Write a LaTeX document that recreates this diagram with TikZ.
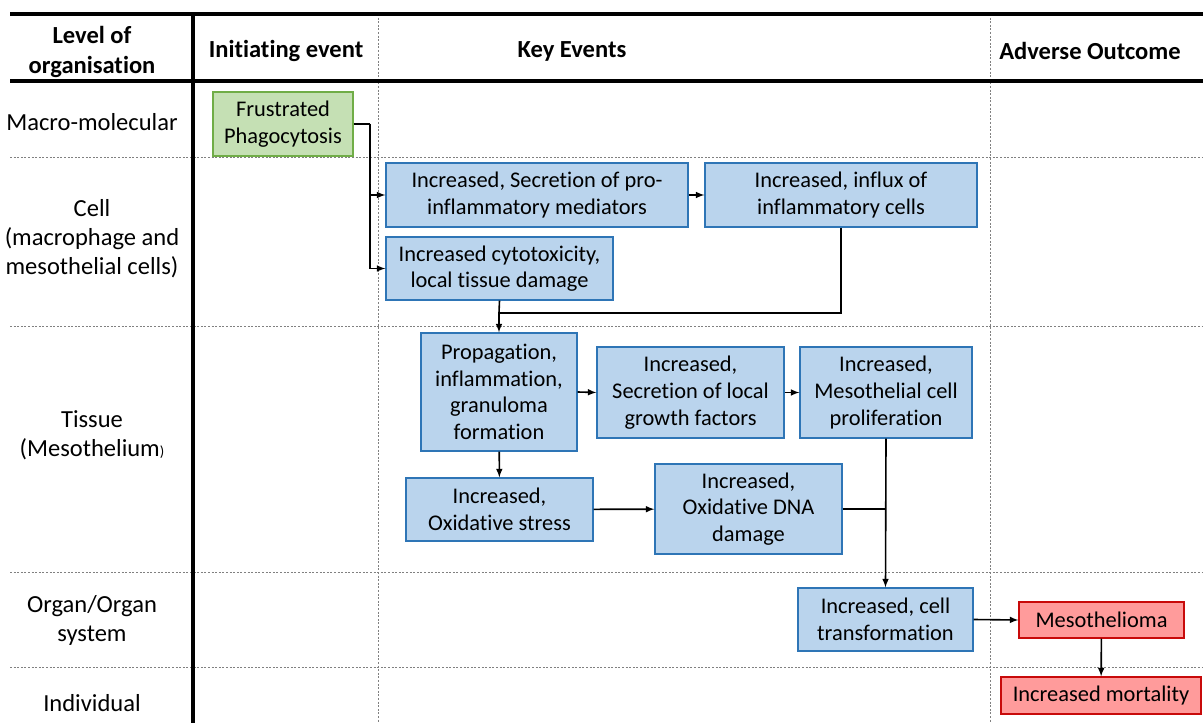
\documentclass[tikz,border=0pt]{standalone}
\usepackage{fontspec}
\setmainfont{Carlito}[RawFeature={-liga;-clig;-calt;-dlig}]
\usetikzlibrary{shapes,arrows,positioning}

\definecolor{boxblue}{RGB}{186,212,237}
\definecolor{edgeblue}{RGB}{46,117,182}
\definecolor{boxgreen}{RGB}{197,224,180}
\definecolor{edgegreen}{RGB}{112,173,71}
\definecolor{boxred}{RGB}{255,155,155}
\definecolor{edgered}{RGB}{200,10,10}

\begin{document}
\begin{tikzpicture}[
    x=0.75pt, y=-0.75pt,
    event/.style={rectangle,draw=edgeblue,fill=boxblue,line width=0.9pt,align=center,inner sep=0pt,
        font=\fontsize{16.8}{20}\selectfont},
    mie/.style={event,draw=edgegreen,fill=boxgreen},
    outcome/.style={event,draw=edgered,fill=boxred},
    level/.style={align=center,font=\fontsize{18.4}{21.8}\selectfont},
    head/.style={align=center,font=\fontsize{18.4}{21.8}\selectfont\bfseries},
    thick rule/.style={line width=2.6pt},
    grid rule/.style={gray,line width=0.6pt,dash pattern=on 1.5pt off 1.2pt},
    line/.style={draw,line width=1.2pt,-latex}]

    \useasboundingbox (0,0) rectangle (1203,723);

    % Table frame
    \draw[grid rule] (10,157) -- (1203,157);
    \draw[grid rule] (10,326) -- (1203,326);
    \draw[grid rule] (10,572) -- (1203,572);
    \draw[grid rule] (10,667) -- (1203,667);
    \draw[grid rule] (378,14) -- (378,723);
    \draw[grid rule] (990,14) -- (990,723);
    \draw[thick rule] (10,14) -- (1203,14);
    \draw[thick rule] (10,81) -- (1203,81);
    \draw[thick rule] (193,14) -- (193,723);

    % Column headers
    \node[head] (hlevel) at (92,52) {Level of\\organisation};
    \node[head] (hmie) at (286,51) {Initiating event};
    \node[head] (hkey) at (572,51) {Key Events};
    \node[head] (hao) at (1090,51) {Adverse Outcome};

    % Levels of organisation
    \node[level] (lmacro) at (92,122) {Macro-molecular};
    \node[level] (lcell) at (92,239) {Cell\\(macrophage and\\mesothelial cells)};
    \node[level] (ltissue) at (92,435) {Tissue\\(Mesothelium{\fontsize{11}{11}\selectfont)}};
    \node[level] (lorgan) at (92,620) {Organ/Organ\\system};
    \node[level] (lindiv) at (92,703) {Individual};

    % Initiating event
    \node[mie, minimum width=140*0.75pt, minimum height=64*0.75pt] (phago) at (283,124) {Frustrated\\Phagocytosis};

    % Key events
    \node[event, minimum width=302*0.75pt, minimum height=64*0.75pt] (secpro) at (537,195) {Increased, Secretion of pro-\\inflammatory mediators};
    \node[event, minimum width=272*0.75pt, minimum height=64*0.75pt] (influx) at (841,195) {Increased, influx of\\inflammatory cells};
    \node[event, minimum width=227*0.75pt, minimum height=63*0.75pt] (cytotox) at (499.5,268.5) {Increased cytotoxicity,\\local tissue damage};
    \node[event, minimum width=156*0.75pt, minimum height=118*0.75pt] (granuloma) at (499,392) {Propagation,\\inflammation,\\granuloma\\formation};
    \node[event, minimum width=187*0.75pt, minimum height=91*0.75pt] (growth) at (690.5,392.5) {Increased,\\Secretion of local\\growth factors};
    \node[event, minimum width=172*0.75pt, minimum height=91*0.75pt] (prolif) at (886,392.5) {Increased,\\Mesothelial cell\\proliferation};
    \node[event, minimum width=187*0.75pt, minimum height=63*0.75pt] (oxstress) at (499.5,509.5) {Increased,\\Oxidative stress};
    \node[event, minimum width=187*0.75pt, minimum height=90*0.75pt] (dnadmg) at (748.5,509) {Increased,\\Oxidative DNA\\damage};
    \node[event, minimum width=175*0.75pt, minimum height=63*0.75pt] (transform) at (885.5,619.5) {Increased, cell\\transformation};

    % Adverse outcome
    \node[outcome, minimum width=165*0.75pt, minimum height=36*0.75pt] (meso) at (1101.5,620) {Mesothelioma};
    \node[outcome, minimum width=200*0.75pt, minimum height=37*0.75pt] (mort) at (1101,695.5) {Increased mortality};

    % Junction points
    \coordinate (split) at (370,124);
    \coordinate (merge) at (499,313);

    % Connect events
    \draw[line width=1.2pt] (phago.east) -- (split);
    \path[line] (split) |- (secpro.west);
    \path[line] (split) |- (cytotox.west);
    \path[line] (secpro) -- (influx);
    \draw[line width=1.2pt] (cytotox.south) -- (merge);
    \draw[line width=1.2pt] (influx.south) |- (merge);
    \path[line] (merge) -- (granuloma.north);
    \path[line] (granuloma.east) -- (growth.west);
    \path[line] (growth) -- (prolif);
    \path[line] (granuloma) -- (oxstress);
    \path[line] (oxstress) -- (dnadmg);
    \draw[line width=1.2pt] (dnadmg.east) -- (dnadmg.east -| prolif.south);
    \path[line] (prolif.south) -- (transform.north);
    \path[line] (transform.east) -- (meso.west);
    \path[line] (meso) -- (mort);
\end{tikzpicture}
\end{document}
